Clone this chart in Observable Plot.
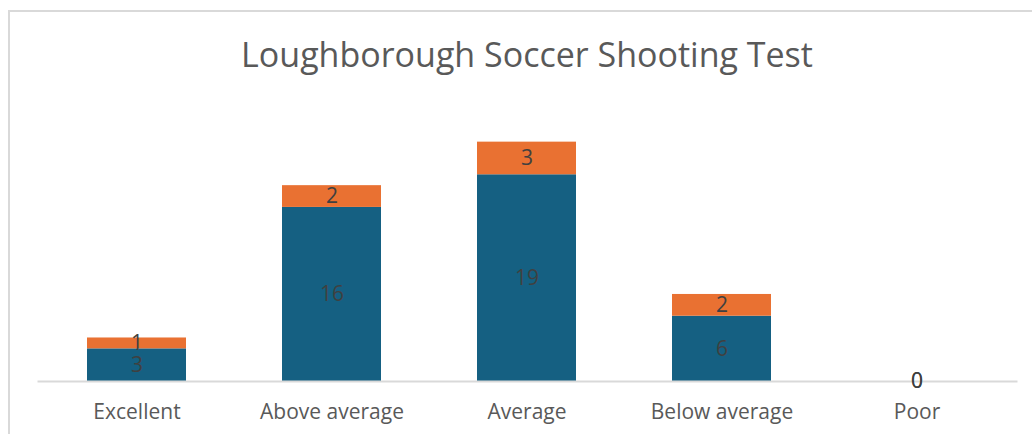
<!DOCTYPE html>
<html>
<head>
<meta charset="utf-8">
<script src="https://cdn.jsdelivr.net/npm/d3@7"></script>
<script src="https://cdn.jsdelivr.net/npm/@observablehq/plot@0.6"></script>
<style>
  html, body { margin: 0; padding: 0; background: #fff; width: 1032px; height: 434px; overflow: hidden; }
  #frame { position: absolute; left: 8px; top: 10px; width: 1040px; height: 440px; border-left: 2px solid #d9d9d9; border-top: 2px solid #d9d9d9; box-sizing: border-box; }
  #title { position: absolute; left: 0; width: 1054px; top: 31px; text-align: center; font-family: "Open Sans", sans-serif; font-size: 34px; color: #595959; white-space: nowrap; }
  #chart { position: absolute; left: 0; top: 0; }
</style>
</head>
<body>
<div id="frame"></div>
<div id="title">Loughborough Soccer Shooting Test</div>
<div id="chart"></div>
<script>
const categories = ["Excellent", "Above average", "Average", "Below average", "Poor"];
const seriesNames = ["Series A", "Series B"];
const seriesA = [3, 16, 19, 6, 0];
const seriesB = [1, 2, 3, 2, 0];
const colors = ["#156082", "#E97132"];

const data = [];
categories.forEach((c, i) => {
  data.push({category: c, series: seriesNames[0], value: seriesA[i]});
  data.push({category: c, series: seriesNames[1], value: seriesB[i]});
});

const chart = Plot.plot({
  width: 1032,
  height: 434,
  marginLeft: 38,
  marginRight: 16,
  marginTop: 109,
  marginBottom: 53,
  style: {fontFamily: "Open Sans, sans-serif", background: "transparent"},
  x: {domain: categories, paddingInner: 0.49, paddingOuter: 0.245, label: null},
  y: {domain: [0, 25], axis: null},
  color: {domain: seriesNames, range: colors},
  marks: [
    Plot.barY(data, {x: "category", y: "value", fill: "series", order: seriesNames}),
    Plot.frame({anchor: "bottom", stroke: "#d9d9d9", strokeWidth: 2}),
    Plot.text(data, Plot.stackY({x: "category", y: "value", z: "series", order: seriesNames, text: d => String(d.value), fill: "#404040", fontSize: 21})),
    Plot.axisX({tickSize: 0, tickPadding: 23, fontSize: 21, color: "#595959", label: null})
  ]
});
document.getElementById("chart").appendChild(chart);
</script>
</body>
</html>
